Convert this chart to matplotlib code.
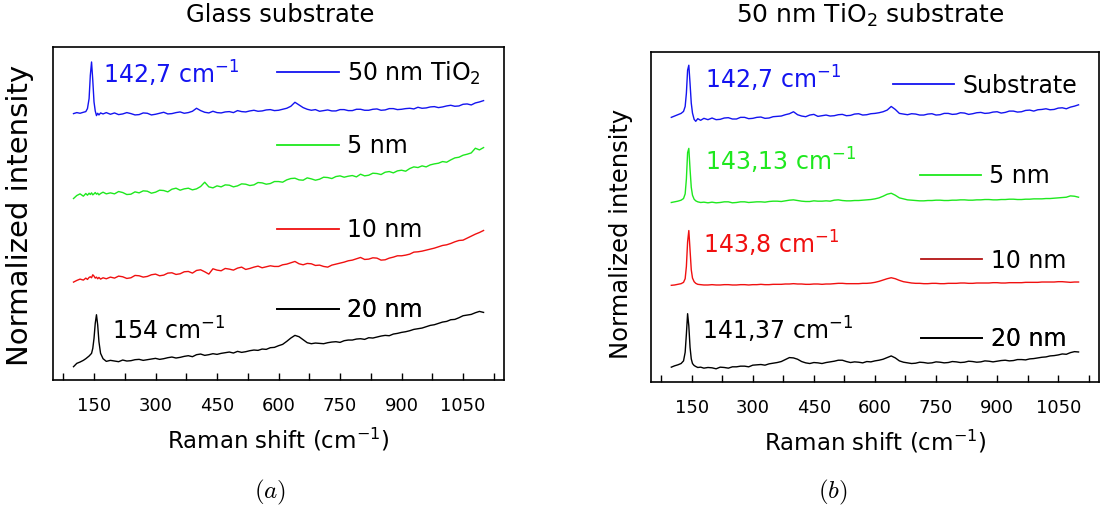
import matplotlib
matplotlib.use("Agg")
import matplotlib.pyplot as plt
from matplotlib.lines import Line2D
from matplotlib.ticker import MultipleLocator, AutoMinorLocator

# ---- data (offset units 0..100) ----
# x: fine steps around the ~145 cm-1 peak, then every 10 cm-1
grid = list(range(200, 1101, 10))

# (a) glass substrate
xa = [100, 108, 116, 124, 130, 134, 138, 141, 144, 147, 150, 153, 156, 159, 162, 166, 172, 180, 190] + grid
a_tio2 = [80.0, 80.3, 80.1, 80.4, 80.6, 81.5, 84.5, 91.5, 95.5, 90.0, 83.5, 80.8, 79.4, 80.1, 79.6, 80.2, 79.9, 80.3, 79.8,
          80.2, 79.7, 79.9, 80.3, 80.0, 79.6, 79.7, 80.2, 80.1, 79.6,
          79.8, 80.1, 80.4, 79.9, 80.0, 80.3, 80.5, 80.1, 80.3, 80.7,
          81.6, 80.9, 80.4, 80.2, 80.7, 80.3, 80.2, 80.5, 80.6, 80.3,
          80.9, 80.6, 80.5, 80.8, 81.0, 80.7, 80.8, 81.1, 81.2, 80.9,
          81.0, 81.3, 81.6, 82.2, 83.4, 82.6, 81.8, 81.3, 81.0, 81.2,
          80.7, 80.9, 81.1, 80.8, 80.8, 81.2, 81.2, 80.9, 80.9, 81.3,
          81.3, 81.0, 81.0, 81.3, 81.4, 81.0, 81.1, 81.5, 81.5, 81.2,
          81.3, 81.5, 81.6, 81.4, 81.9, 81.6, 81.7, 82.0, 82.1, 81.8,
          82.0, 82.3, 82.5, 82.2, 82.3, 82.8, 82.9, 82.6, 83.2, 83.5,
          83.9]
a_5nm = [54.5, 55.4, 55.9, 55.2, 56.0, 55.5, 56.1, 55.7, 56.2, 55.6, 55.9, 56.3, 55.8, 56.1, 55.6, 56.0, 56.4, 55.9, 56.2,
         55.9, 56.6, 56.3, 55.7, 55.8, 56.5, 56.2, 56.8, 56.7, 56.1,
         56.4, 57.0, 56.9, 56.5, 57.3, 57.6, 57.0, 57.4, 57.6, 57.1,
         57.4, 58.1, 59.4, 58.0, 57.7, 58.3, 58.0, 58.6, 58.5, 58.0,
         58.3, 58.9, 58.8, 58.4, 58.6, 59.3, 59.2, 58.8, 59.0, 59.6,
         59.6, 59.4, 60.1, 60.5, 60.6, 60.1, 60.0, 60.7, 60.4, 60.0,
         60.3, 60.9, 60.8, 60.5, 61.1, 61.3, 60.9, 61.2, 61.4, 61.0,
         61.8, 61.3, 61.5, 62.1, 62.0, 61.7, 62.4, 62.6, 62.2, 62.8,
         63.0, 62.7, 63.5, 64.0, 63.8, 64.3, 64.0, 64.6, 64.9, 65.1,
         65.6, 65.4, 66.1, 66.7, 66.9, 67.5, 67.8, 68.2, 69.6, 69.1,
         69.8]
a_10nm = [29.4, 29.9, 30.3, 30.0, 30.6, 30.2, 30.8, 31.0, 30.7, 31.6, 31.2, 30.6, 30.9, 30.4, 30.8, 30.3, 30.7, 30.4, 30.9,
          30.6, 31.2, 31.0, 30.5, 30.7, 31.4, 31.3, 30.9, 31.1, 31.6,
          31.8, 31.3, 31.5, 32.1, 32.2, 31.7, 31.9, 32.5, 32.6, 32.1,
          32.9, 33.1, 32.5, 31.8, 33.4, 33.0, 32.8, 33.5, 33.3, 33.0,
          33.6, 33.9, 33.2, 33.5, 33.9, 34.2, 33.7, 34.0, 34.3, 34.1,
          34.1, 34.6, 34.8, 35.2, 35.6, 34.9, 34.6, 35.0, 34.9, 34.4,
          34.5, 34.1, 33.9, 34.5, 34.8, 35.1, 35.4, 35.8, 36.0, 36.4,
          36.8, 36.2, 36.3, 36.7, 36.6, 36.0, 36.1, 36.6, 36.9, 37.3,
          37.3, 37.5, 37.8, 38.4, 38.5, 38.7, 39.0, 39.3, 39.6, 40.0,
          40.4, 40.6, 41.0, 41.5, 41.9, 42.0, 42.6, 43.2, 43.8, 44.3,
          44.9]
a_20nm = [4.0, 5.0, 5.4, 5.9, 6.4, 6.8, 7.2, 7.6, 8.0, 9.5, 12.5, 17.0, 19.6, 16.5, 11.5, 8.0, 6.4, 5.6, 5.9,
          5.7, 5.5, 6.0, 5.7, 5.8, 6.1, 6.2, 5.9, 6.1, 6.3,
          6.5, 6.2, 6.4, 6.7, 6.9, 6.6, 6.8, 7.1, 7.3, 7.0,
          7.6, 7.8, 7.4, 7.6, 7.9, 7.7, 8.0, 8.2, 8.4, 8.1,
          8.6, 8.3, 8.5, 8.8, 9.0, 8.9, 9.3, 9.2, 9.7, 9.8,
          10.3, 10.7, 11.6, 12.6, 13.4, 13.0, 12.1, 11.2, 10.9, 11.1,
          11.0, 10.9, 11.2, 11.4, 11.5, 11.3, 11.8, 12.0, 12.0, 12.3,
          12.4, 12.2, 12.7, 12.6, 12.9, 13.2, 13.4, 13.3, 13.8, 14.0,
          14.3, 14.5, 14.8, 15.2, 15.4, 15.6, 16.0, 16.4, 16.6, 17.0,
          17.4, 17.6, 18.1, 18.2, 18.7, 19.3, 19.5, 19.7, 20.2, 20.6,
          20.3]

# (b) 50 nm TiO2 substrate
xb = [100, 108, 116, 124, 130, 134, 137, 140, 143, 146, 149, 152, 156, 160, 165, 172, 180, 190] + grid
b_sub = [80.2, 80.6, 81.0, 81.4, 82.0, 83.5, 87.5, 94.5, 96.0, 90.5, 84.5, 81.5, 79.6, 79.0, 79.8, 79.3, 79.9, 79.5,
         80.0, 79.5, 79.6, 80.0, 80.1, 79.7, 79.7, 80.2, 80.2, 79.8,
         79.9, 80.2, 80.3, 79.9, 80.0, 80.4, 80.5, 80.6, 81.0, 81.3,
         81.9, 81.0, 80.6, 80.4, 80.9, 81.1, 80.5, 80.7, 80.9, 80.6,
         80.7, 81.0, 81.1, 80.7, 80.8, 81.2, 81.3, 80.9, 81.0, 81.3,
         81.4, 81.6, 81.9, 82.4, 83.5, 82.6, 81.4, 81.2, 81.0, 81.3,
         81.2, 80.9, 80.9, 81.2, 81.3, 80.9, 81.0, 81.4, 81.4, 81.1,
         81.2, 81.6, 81.5, 81.1, 81.3, 81.6, 81.7, 81.4, 81.5, 81.8,
         81.9, 81.5, 81.7, 82.1, 82.1, 81.8, 81.9, 82.3, 82.4, 82.1,
         82.5, 82.6, 82.8, 82.5, 82.6, 83.0, 83.1, 82.8, 83.3, 83.6,
         84.0]
b_5nm = [54.4, 54.6, 54.8, 55.1, 55.6, 57.0, 61.5, 69.5, 70.8, 64.5, 59.0, 56.6, 55.4, 54.9, 54.6, 54.4, 54.5, 54.3,
         54.5, 54.3, 54.4, 54.6, 54.6, 54.3, 54.4, 54.6, 54.6, 54.4,
         54.5, 54.6, 54.6, 54.5, 54.7, 54.8, 54.8, 54.7, 54.9, 55.1,
         55.2, 55.0, 54.8, 54.7, 54.7, 54.9, 54.8, 54.8, 54.9, 54.8,
         55.1, 55.2, 55.0, 54.9, 54.9, 55.0, 55.0, 55.1, 55.2, 55.3,
         55.5, 55.8, 56.3, 56.9, 57.2, 56.6, 55.8, 55.5, 55.2, 55.1,
         55.0, 54.9, 54.9, 55.0, 55.0, 55.1, 55.1, 55.0, 55.0, 55.1,
         55.1, 55.2, 55.2, 55.1, 55.1, 55.2, 55.2, 55.3, 55.3, 55.2,
         55.2, 55.3, 55.3, 55.4, 55.4, 55.3, 55.3, 55.4, 55.4, 55.5,
         55.5, 55.5, 55.6, 55.6, 55.7, 55.8, 55.9, 56.0, 56.4, 56.3,
         56.0]
b_10nm = [29.3, 29.4, 29.6, 29.8, 30.2, 31.3, 35.0, 42.5, 45.9, 40.0, 34.0, 31.5, 30.4, 29.9, 29.6, 29.5, 29.4, 29.4,
          29.5, 29.4, 29.4, 29.5, 29.5, 29.4, 29.4, 29.5, 29.5, 29.4,
          29.5, 29.5, 29.6, 29.5, 29.5, 29.6, 29.6, 29.6, 29.7, 29.7,
          29.8, 29.7, 29.7, 29.6, 29.6, 29.7, 29.7, 29.6, 29.7, 29.7,
          29.8, 29.9, 29.9, 29.8, 29.8, 29.8, 29.8, 29.9, 29.9, 30.0,
          30.2, 30.5, 30.9, 31.3, 31.6, 31.3, 30.8, 30.4, 30.2, 30.0,
          29.9, 29.9, 29.8, 29.8, 29.9, 29.9, 29.8, 29.8, 29.9, 29.9,
          29.9, 30.0, 30.0, 29.9, 29.9, 30.0, 30.0, 30.0, 30.0, 30.1,
          30.1, 30.0, 30.0, 30.1, 30.1, 30.1, 30.1, 30.2, 30.2, 30.2,
          30.2, 30.3, 30.3, 30.3, 30.3, 30.4, 30.4, 30.3, 30.2, 30.3,
          30.3]
b_20nm = [4.5, 4.9, 5.2, 5.6, 6.4, 9.0, 14.5, 20.7, 17.0, 10.5, 7.0, 5.6, 5.0, 4.7, 4.4, 4.5, 4.2, 4.4,
          4.3, 4.0, 4.5, 4.4, 4.2, 4.6, 4.6, 4.8, 4.8, 4.6,
          5.1, 5.2, 5.3, 5.1, 5.5, 5.7, 5.9, 6.2, 6.8, 7.4,
          7.3, 6.9, 6.2, 5.8, 5.6, 5.9, 5.8, 5.6, 5.9, 6.1,
          6.3, 6.6, 6.6, 6.2, 5.9, 6.1, 6.0, 5.8, 6.2, 6.1,
          6.4, 6.6, 6.9, 7.4, 7.9, 7.3, 6.4, 6.0, 5.8, 5.6,
          5.7, 6.0, 5.9, 5.7, 5.8, 6.1, 6.0, 5.8, 5.9, 6.2,
          6.1, 5.9, 6.0, 6.3, 6.2, 6.0, 6.1, 6.4, 6.3, 6.1,
          6.3, 6.5, 6.6, 6.4, 6.5, 6.8, 6.8, 6.7, 7.0, 7.1,
          7.3, 7.5, 7.6, 7.9, 8.0, 8.2, 8.5, 8.4, 8.9, 9.2,
          9.1]

labels_a = ["50 nm TiO$_2$", "5 nm", "10 nm", "20 nm"]
labels_b = ["Substrate", "5 nm", "10 nm", "20 nm"]
BLUE, GREEN, RED, BLACK = "#1414f0", "#1ee81e", "#f01010", "black"

# ---- figure ----
fig = plt.figure(figsize=(11.02, 5.12), dpi=100)
axa = fig.add_axes([0.0481, 0.2578, 0.4093, 0.6504])
axb = fig.add_axes([0.5907, 0.2539, 0.4065, 0.6445])


def add_key(ax, color, label, x, y):
    h = Line2D([], [], color=color, lw=1.3)
    leg = ax.legend([h], [label], loc="center left", bbox_to_anchor=(x, y),
                    frameon=False, borderpad=0, borderaxespad=0,
                    handlelength=2.6, handletextpad=0.35, fontsize=17)
    ax.add_artist(leg)


def style(ax):
    ax.set_xlim(50, 1150)
    ax.set_ylim(0, 100)
    ax.xaxis.set_major_locator(MultipleLocator(150))
    ax.xaxis.set_minor_locator(AutoMinorLocator(2))
    ax.set_yticks([])
    ax.tick_params(axis="x", which="both", direction="in", length=5, width=1,
                   labelsize=13, pad=12)
    for s in ax.spines.values():
        s.set_linewidth(1.2)
    ax.set_xlabel("Raman shift (cm$^{-1}$)", fontsize=16.5, labelpad=8)


# panel (a)
for y, c in zip([a_tio2, a_5nm, a_10nm, a_20nm], [BLUE, GREEN, RED, BLACK]):
    axa.plot(xa, y, color=c, lw=1.0)
style(axa)
axa.set_ylabel("Normalized intensity", fontsize=21)
axa.yaxis.set_label_coords(-0.042, 0.495)
for lab, c, ky in zip(labels_a, [BLUE, GREEN, RED, BLACK], [0.921, 0.703, 0.450, 0.210]):
    add_key(axa, c, lab, 0.497, ky)
axa.text(171, 88.9, "142,7 cm$^{-1}$", color=BLUE, fontsize=17, va="baseline")
axa.text(193, 12.0, "154 cm$^{-1}$", color=BLACK, fontsize=17, va="baseline")

# panel (b)
for y, c in zip([b_sub, b_5nm, b_10nm, b_20nm], [BLUE, GREEN, RED, BLACK]):
    axb.plot(xb, y, color=c, lw=1.0)
style(axb)
axb.set_ylabel("Normalized intensity", fontsize=17.5)
axb.yaxis.set_label_coords(-0.040, 0.448)
for lab, c, kx, ky in zip(labels_b, [BLUE, GREEN, "#b41414", BLACK],
                          [0.540, 0.600, 0.603, 0.603], [0.898, 0.624, 0.368, 0.130]):
    add_key(axb, c, lab, kx, ky)
axb.text(182, 89.0, "142,7 cm$^{-1}$", color=BLUE, fontsize=17, va="baseline")
axb.text(182, 64.2, "143,13 cm$^{-1}$", color=GREEN, fontsize=17, va="baseline")
axb.text(177, 39.0, "143,8 cm$^{-1}$", color=RED, fontsize=17, va="baseline")
axb.text(175, 12.7, "141,37 cm$^{-1}$", color=BLACK, fontsize=17, va="baseline")

# titles and panel letters
fig.text(280 / 1102, 1 - 15 / 512, "Glass substrate", fontsize=17.5, ha="center", va="center")
fig.text(870 / 1102, 1 - 15 / 512, "50 nm TiO$_2$ substrate", fontsize=18, ha="center", va="center")
fig.text(270 / 1102, 1 - 492 / 512, "$(a)$", fontsize=18, ha="center", va="center", math_fontfamily="cm")
fig.text(833 / 1102, 1 - 492 / 512, "$(b)$", fontsize=18, ha="center", va="center", math_fontfamily="cm")

fig.savefig("out.png", dpi=100)
